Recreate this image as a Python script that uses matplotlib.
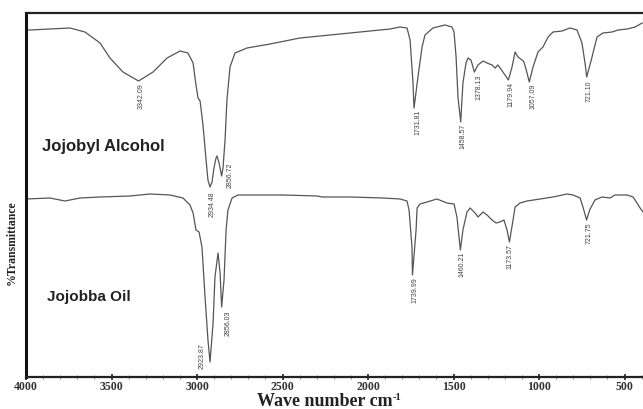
import matplotlib
matplotlib.use("Agg")
import matplotlib.pyplot as plt
from matplotlib.ticker import MultipleLocator

# ---- data (wavenumber cm-1, relative transmittance) ----
alcohol_wn = [4000, 3977, 3860, 3743, 3655, 3567, 3509, 3433, 3342, 3257, 3175, 3099, 3053,
              3023, 3006, 2994, 2982, 2965, 2947, 2936, 2924, 2912, 2901, 2889, 2883, 2871,
              2856, 2848, 2836, 2825, 2807, 2778, 2708, 2573, 2398, 2222, 2105, 1988, 1871,
              1813, 1772, 1754, 1737, 1731, 1708, 1684, 1667, 1620, 1550, 1509, 1497, 1485,
              1474, 1458, 1445, 1427, 1415, 1398, 1378, 1357, 1327, 1304, 1275, 1257, 1240,
              1211, 1179, 1158, 1140, 1123, 1099, 1088, 1070, 1057, 1035, 1006, 977, 947,
              918, 866, 819, 778, 749, 731, 721, 690, 661, 626, 573, 538, 485, 438, 397]
alcohol_t = [347, 347, 348, 349, 345, 334, 319, 305, 296, 305, 319, 326, 324,
             314, 292, 279, 276, 252, 217, 197, 190, 195, 209, 219, 221, 214,
             201, 209, 237, 277, 310, 324, 329, 333, 339, 342, 344, 346, 348,
             350, 349, 337, 294, 269, 300, 330, 342, 349, 352, 350, 345, 320,
             280, 255, 294, 314, 319, 317, 305, 312, 316, 314, 312, 309, 312,
             305, 297, 310, 325, 320, 317, 315, 304, 295, 310, 325, 330, 340,
             345, 346, 349, 347, 334, 314, 300, 320, 340, 344, 345, 347, 348, 350, 354]

oil_wn = [4000, 3860, 3772, 3684, 3567, 3392, 3275, 3158, 3082, 3041, 3023, 3006, 2988,
          2971, 2953, 2936, 2924, 2906, 2895, 2877, 2865, 2856, 2842, 2830, 2819, 2795,
          2760, 2690, 2497, 2298, 2269, 2105, 1912, 1813, 1772, 1760, 1743, 1740, 1719,
          1713, 1696, 1655, 1597, 1538, 1497, 1480, 1460, 1445, 1421, 1403, 1374, 1357,
          1327, 1304, 1275, 1251, 1228, 1205, 1187, 1173, 1152, 1140, 1111, 1070, 994,
          918, 836, 801, 760, 743, 722, 704, 673, 632, 585, 556, 485, 450, 409, 392]
oil_t = [178, 179, 176, 179, 180, 181, 183, 182, 179, 172, 164, 147, 145,
         130, 80, 37, 15, 54, 100, 124, 104, 70, 97, 147, 167, 179,
         182, 182, 182, 181, 180, 180, 179, 178, 176, 167, 130, 102, 147,
         169, 173, 175, 178, 174, 173, 160, 127, 147, 165, 169, 164, 160,
         165, 162, 157, 154, 155, 157, 147, 135, 157, 170, 174, 176, 178,
         180, 183, 182, 179, 170, 157, 167, 177, 180, 179, 182, 182, 180, 169, 165]

alcohol_peak_labels = ["3342.09", "2934.48", "2856.72", "1731.81", "1458.57",
                       "1378.13", "1179.94", "1057.09", "721.10"]
alcohol_peak_wn = [3342, 2924, 2856, 1731, 1458, 1378, 1179, 1057, 721]
alcohol_peak_t = [296, 190, 201, 269, 255, 305, 297, 295, 300]

oil_peak_labels = ["2923.87", "2856.03", "1739.99", "1460.21", "1173.57", "721.75"]
oil_peak_wn = [2924, 2856, 1740, 1460, 1173, 722]
oil_peak_t = [15, 70, 102, 127, 135, 157]

x_ticks = [4000, 3500, 3000, 2500, 2000, 1500, 1000, 500]

# ---- layout / style ----
alcohol_offsets = [(3, -2), (2, -4), (8, 13), (4, -2), (2, -2), (5, -3), (3, -2), (4, -2), (2, -3)]
oil_offsets = [(-8, 19), (6, -3), (2, -2), (2, -2), (1, -2), (3, -2)]

fig = plt.figure(figsize=(6.43, 4.09), dpi=100)
ax = fig.add_axes([26 / 643, 32 / 409, 1 - 26 / 643, 364 / 409])

line_color = "#555555"
ax.plot(alcohol_wn, alcohol_t, color=line_color, lw=0.9)
ax.plot(oil_wn, oil_t, color=line_color, lw=0.9)

ax.set_xlim(4000, 392)
ax.set_ylim(0, 364)

for lab, w, t, (dx, dy) in zip(alcohol_peak_labels, alcohol_peak_wn, alcohol_peak_t, alcohol_offsets):
    ax.annotate(lab, xy=(w, t), xytext=(dx, dy), textcoords="offset pixels",
                rotation=90, ha="center", va="top", fontsize=5,
                family="Liberation Sans", color="#444444")
for lab, w, t, (dx, dy) in zip(oil_peak_labels, oil_peak_wn, oil_peak_t, oil_offsets):
    ax.annotate(lab, xy=(w, t), xytext=(dx, dy), textcoords="offset pixels",
                rotation=90, ha="center", va="top", fontsize=5,
                family="Liberation Sans", color="#444444")

ax.text(3906, 230, "Jojobyl Alcohol", fontsize=12, fontweight="bold",
        family="Liberation Sans", color="#222222", ha="left", va="center")
ax.text(3877, 80, "Jojobba Oil", fontsize=11, fontweight="bold",
        family="Liberation Sans", color="#222222", ha="left", va="center")

ax.set_xticks(x_ticks)
ax.set_xticklabels([str(v) for v in x_ticks], family="Liberation Serif",
                   fontweight="bold", fontsize=8.5, color="#333333")
ax.xaxis.set_minor_locator(MultipleLocator(100))
ax.tick_params(axis="x", which="major", direction="inout", length=4, width=1.2,
               color="#222222", pad=1)
ax.tick_params(axis="x", which="minor", direction="inout", length=3, width=0.6,
               color="#777777")
ax.set_yticks([])

ax.spines["right"].set_visible(False)
ax.spines["left"].set_linewidth(2.2)
ax.spines["left"].set_color("#111111")
ax.spines["bottom"].set_linewidth(1.6)
ax.spines["bottom"].set_color("#222222")
ax.spines["top"].set_linewidth(1.6)
ax.spines["top"].set_color("#222222")

# x-axis title with a small superscript
main = fig.text(0, 1 - 402 / 409, "Wave number cm", ha="left", va="center",
                family="Liberation Serif", fontweight="bold", fontsize=13, color="#222222")
sup = fig.text(0, 1 - 397 / 409, "-1", ha="left", va="center",
               family="Liberation Serif", fontweight="bold", fontsize=7.5, color="#222222")
fig.canvas.draw()
r = fig.canvas.get_renderer()
w_main = main.get_window_extent(r).width
w_sup = sup.get_window_extent(r).width
total = w_main + w_sup
x0 = 329 - total / 2
main.set_x(x0 / 643)
sup.set_x((x0 + w_main) / 643)

fig.text(12 / 643, 1 - 243 / 409, "%Transmittance", rotation=90, ha="center", va="center",
         family="Liberation Serif", fontweight="bold", fontsize=8.5, color="#222222")

fig.savefig("out.png", dpi=100)
